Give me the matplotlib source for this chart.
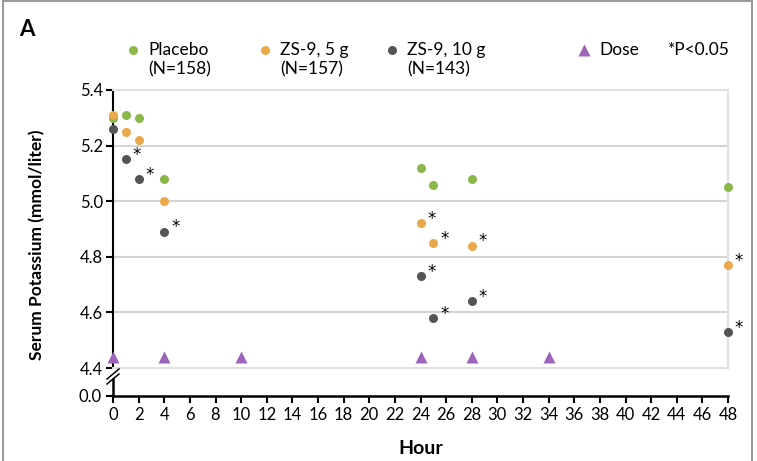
import matplotlib
matplotlib.use("Agg")
import matplotlib.pyplot as plt
from matplotlib.lines import Line2D
from matplotlib.patches import Rectangle

plt.rcParams["font.family"] = ["Lato", "DejaVu Sans"]

hours = [0, 1, 2, 4, 24, 25, 28, 48]
placebo = [5.30, 5.31, 5.30, 5.08, 5.12, 5.06, 5.08, 5.05]
zs9_5g = [5.31, 5.25, 5.22, 5.00, 4.92, 4.85, 4.84, 4.77]
zs9_10g = [5.26, 5.15, 5.08, 4.89, 4.73, 4.58, 4.64, 4.53]
sig_5g = [False, False, False, False, True, True, True, True]
sig_10g = [False, True, True, True, True, True, True, True]
dose_hours = [0, 4, 10, 24, 28, 34]
dose_level = 4.44

GREEN = "#8BB64A"
ORANGE = "#E9A94A"
DARK = "#555555"
PURPLE = "#9B64B8"
GRID = "#d4d4d4"

W, H = 757, 461
fig = plt.figure(figsize=(W / 100, H / 100), dpi=100)


def fx(px):
    return px / W


def fy(py):
    return 1 - py / H


left, right = fx(113), fx(728)
ax = fig.add_axes([left, fy(368), right - left, fy(90) - fy(368)])
axb = fig.add_axes([left, fy(396), right - left, fy(379) - fy(396)])

# upper panel
ax.set_xlim(0, 48)
ax.set_ylim(4.4, 5.4)
ax.set_yticks([4.4, 4.6, 4.8, 5.0, 5.2, 5.4])
ax.set_yticklabels(["4.4", "4.6", "4.8", "5.0", "5.2", "5.4"])
ax.set_xticks([])
for y in [4.6, 4.8, 5.0, 5.2]:
    ax.axhline(y, color=GRID, lw=1.5, zorder=0)
for s in ["top", "right", "bottom"]:
    ax.spines[s].set_color("#e0e0e0")
    ax.spines[s].set_linewidth(1.5)
ax.spines["left"].set_color("black")
ax.spines["left"].set_linewidth(1.5)
ax.tick_params(axis="y", direction="out", length=5, width=1.5, labelsize=12, pad=2)

for vals, col in [(placebo, GREEN), (zs9_5g, ORANGE), (zs9_10g, DARK)]:
    ax.plot(hours, vals, "o", color=col, ms=6.5, mec="none", clip_on=False, zorder=3)

for vals, sig in [(zs9_5g, sig_5g), (zs9_10g, sig_10g)]:
    for h, v, s in zip(hours, vals, sig):
        if s:
            ax.annotate("*", (h, v), xytext=(8, -0.5), textcoords="offset points",
                        ha="center", va="baseline", fontsize=12, color="black",
                        family="DejaVu Sans", annotation_clip=False)

ax.plot(dose_hours, [dose_level] * len(dose_hours), "^", color=PURPLE, ms=8,
        mec="none", clip_on=False, zorder=3)

# lower panel (broken axis down to 0)
axb.set_xlim(0, 48)
axb.set_ylim(0, 1)
axb.set_yticks([0])
axb.set_yticklabels(["0.0"])
axb.set_xticks(range(0, 49, 2))
for s in ["top", "right"]:
    axb.spines[s].set_visible(False)
for s in ["left", "bottom"]:
    axb.spines[s].set_linewidth(1.8)
axb.tick_params(direction="out", length=5, width=1.5, labelsize=12, pad=3)
axb.patch.set_alpha(0)
axb.set_xlabel("Hour", fontsize=14, fontweight="bold", labelpad=12)

# break marks
for yb in [374, 379]:
    fig.add_artist(Line2D([fx(107), fx(119)], [fy(yb + 5), fy(yb - 5)],
                          color="black", lw=1.1))

ax.set_ylabel("Serum Potassium (mmol/liter)", fontsize=12.5, fontweight="bold")
ax.yaxis.set_label_coords(fx(45), fy(245), transform=fig.transFigure)

# panel label and outer frame
fig.text(fx(19), fy(30), "A", fontsize=16, fontweight="bold", va="center")
fig.add_artist(Rectangle((fx(3), -0.02), fx(749), fy(1) + 0.02, fill=False,
                         ec="#9a9a9a", lw=1.5, transform=fig.transFigure))

# legend
legend_items = [
    (133, "o", GREEN, "Placebo", "(N=158)"),
    (265, "o", ORANGE, "ZS-9, 5 g", "(N=157)"),
    (392, "o", DARK, "ZS-9, 10 g", "(N=143)"),
    (584, "^", PURPLE, "Dose", None),
]
for px, mk, col, l1, l2 in legend_items:
    fig.add_artist(Line2D([fx(px)], [fy(50)], marker=mk, color=col,
                          ms=6.5 if mk == "o" else 8, mec="none", ls="none"))
    fig.text(fx(px + 15), fy(50), l1, fontsize=12.5, va="center")
    if l2:
        fig.text(fx(px + 15), fy(69), l2, fontsize=12.5, va="center")
fig.text(fx(668), fy(50), "*P<0.05", fontsize=12.5, va="center")

fig.savefig("out.png", dpi=100)
